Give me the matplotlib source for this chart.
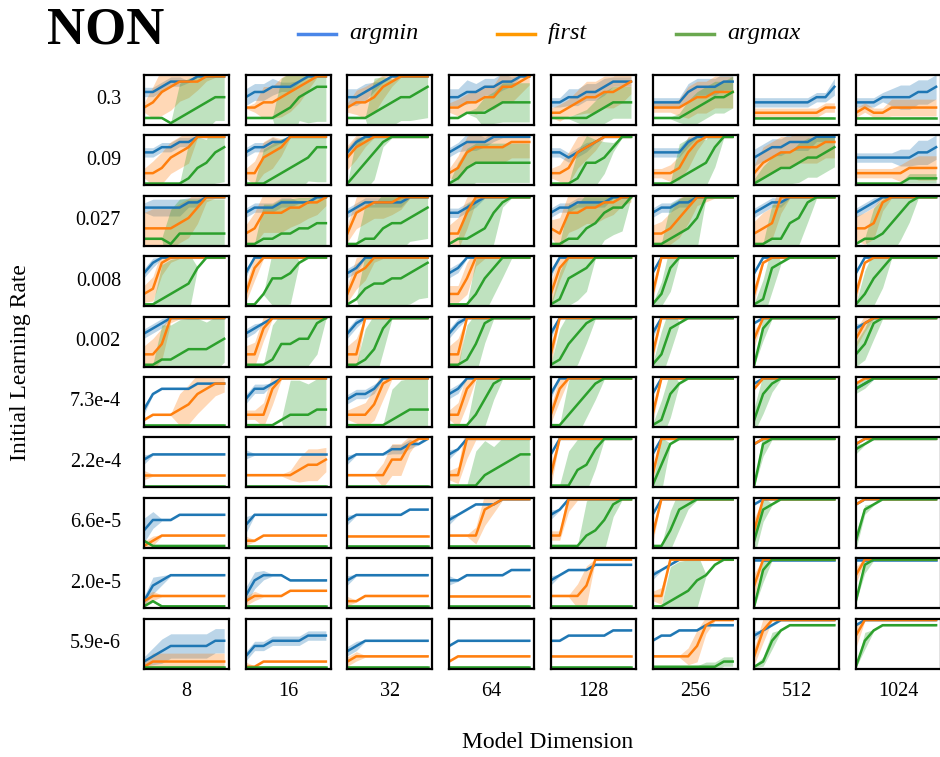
import numpy as np
import matplotlib
matplotlib.use("Agg")
import matplotlib.pyplot as plt
from matplotlib.lines import Line2D

plt.rcParams['font.family'] = ['Liberation Serif', 'DejaVu Serif']

LRS = ["0.3", "0.09", "0.027", "0.008", "0.002", "7.3e-4", "2.2e-4", "6.6e-5", "2.0e-5", "5.9e-6"]
DIMS = ["8", "16", "32", "64", "128", "256", "512", "1024"]

# each curve: 10 levels 0-9 (fraction of panel height)
ARGMIN = [
    ["6678889999", "5667778999", "5567899999", "5566778899", "4455667888", "4444677788", "4444444557", "4445555667"],
    ["6677889999", "6778899999", "6899999999", "6788899999", "6656789999", "6666899999", "5677888999", "5555555667"],
    ["7777788999", "6777888899", "6788888999", "6678999999", "6778888999", "6778899999", "6788999999", "6789999999"],
    ["6899999999", "6999999999", "6799999999", "6799999999", "6999999999", "6999999999", "6999999999", "6999999999"],
    ["6789999999", "6789999999", "6899999999", "6899999999", "6999999999", "6999999999", "8999999999", "7899999999"],
    ["3677778888", "5778999999", "5667999999", "6799999999", "6999999999", "6999999999", "8999999999", "7899999999"],
    ["5666666666", "6666666666", "5666677889", "6799999999", "6999999999", "6999999999", "8999999999", "8999999999"],
    ["3555666666", "4666666666", "5666666777", "5678889999", "6799999999", "6999999999", "8999999999", "8999999999"],
    ["1456666666", "2566655555", "5666666666", "5566666777", "5677788888", "6789999999", "9999999999", "9999999999"],
    ["1234444455", "2445555666", "3455555555", "4555555555", "5566666777", "5667778888", "6789999999", "8999999999"],
]
ARGMIN_SD = [
    ["1111100000", "2222110000", "2221000000", "2232222100", "1122222111", "1111222222", "1111111112", "1111233333"],
    ["1111110000", "1111000000", "1100000000", "1122110000", "1111100000", "1111100000", "2222222111", "1111122333"],
    ["1222211000", "1111110000", "1111111000", "1111000000", "1111111000", "1111100000", "1111000000", "1110000000"],
    ["1100000000", "1000000000", "1100000000", "1100000000", "1000000000", "0000000000", "0000000000", "0000000000"],
    ["1110000000", "1100000000", "1100000000", "1100000000", "1000000000", "1000000000", "0000000000", "1000000000"],
    ["1000000000", "1110000000", "1111000000", "1100000000", "1000000000", "0000000000", "0000000000", "0000000000"],
    ["1000000000", "1000000000", "1000011100", "1000000000", "0000000000", "0000000000", "0000000000", "0000000000"],
    ["3200000000", "2000000000", "1000000000", "1000000000", "1000000000", "0000000000", "0000000000", "0000000000"],
    ["1210000000", "2210000000", "1000000000", "1000000000", "1000000000", "1000000000", "0000000000", "0000000000"],
    ["1233333333", "1111111111", "1100000000", "0000000000", "0000000000", "0000000000", "1000000000", "0000000000"],
]
FIRST = [
    ["3467888999", "3344567899", "3445789999", "3344557789", "2234556678", "3333455666", "2222222233", "2322333333"],
    ["2235679999", "2256799999", "5789999999", "2367777888", "2236789999", "2223689999", "2456677788", "2222223333"],
    ["3333457999", "2366677889", "2678889999", "2269999999", "3266778899", "2235799999", "2349999999", "3348999999"],
    ["2389999999", "2799999999", "2679999999", "2259999999", "2799999999", "2999999999", "2899999999", "2899999999"],
    ["2249999999", "2279999999", "2299999999", "2299999999", "2999999999", "2999999999", "5999999999", "5899999999"],
    ["1222346788", "2227999999", "2224899999", "2279999999", "2799999999", "2999999999", "7999999999", "8999999999"],
    ["2222222222", "2222223445", "2222255899", "2299999999", "2999999999", "2999999999", "8999999999", "8999999999"],
    ["0122222222", "1122222222", "2222222222", "2222789999", "2299999999", "2999999999", "3999999999", "8999999999"],
    ["1222222222", "1222233333", "1122222222", "2222222222", "2222499999", "2299999999", "4999999999", "6999999999"],
    ["0111111111", "0011111111", "1222222222", "1222222222", "2222222222", "2222248999", "2799999999", "6999999999"],
]
FIRST_SD = [
    ["1466542100", "0144554200", "1344310000", "1223334432", "1223444443", "1112444444", "1111111111", "1111222222"],
    ["1344440000", "1344200000", "3310000000", "1344444444", "1244320000", "1123420000", "2444444444", "1111122333"],
    ["4555554100", "2455554432", "2444433000", "2441000000", "2454444321", "2345421000", "3444000000", "3442000000"],
    ["2331000000", "2300000000", "2431000000", "2242000000", "3300000000", "2000000000", "2000000000", "2000000000"],
    ["2441000000", "2330000000", "2400000000", "2400000000", "3000000000", "2000000000", "2000000000", "2200000000"],
    ["0000455432", "1134000000", "1234400000", "1340000000", "2300000000", "2000000000", "0000000000", "0000000000"],
    ["1000000000", "0000013443", "0000344200", "1250000000", "3000000000", "2000000000", "0000000000", "0000000000"],
    ["1100000000", "1000000000", "0000000000", "0002420000", "1130000000", "2000000000", "3000000000", "0000000000"],
    ["1100000000", "1100000000", "1000000000", "0000000000", "0003500000", "1200000000", "3000000000", "2000000000"],
    ["1222222222", "1000000000", "1100000000", "0000000000", "0000000000", "0000242000", "2300000000", "3000000000"],
]
ARGMAX = [
    ["1110123455", "1111235677", "1112345567", "1122234444", "1111123444", "1111234556", "1111111111", "1111111111"],
    ["0000013467", "0001234577", "0246899999", "0134444444", "0001445799", "0001234799", "0123345567", "0000001111"],
    ["1110222222", "0011223344", "0011344567", "0112368999", "0011346779", "0012359999", "0011458999", "0112468999"],
    ["0012347999", "0025568999", "0134455678", "0002579999", "0156799999", "0279999999", "0178999999", "0257999999"],
    ["0011233345", "0001445589", "0013799999", "0014899999", "0146899999", "0278999999", "0799999999", "2489999999"],
    ["0000000000", "0000122233", "0000012333", "0002589999", "0024689999", "0168999999", "1689999999", "7899999999"],
    ["0000000000", "0000000000", "0000000000", "0000234566", "0003479999", "0489999999", "0899999999", "7899999999"],
    ["1000000000", "0000000000", "0000000000", "0000000000", "0000235899", "0037899999", "1789999999", "1789999999"],
    ["0100000000", "0000000000", "0000000000", "0000000000", "0000000000", "0012356899", "0799999999", "1899999999"],
    ["0000000000", "0000000000", "0000000000", "0000000000", "0000000000", "0000000011", "0157888888", "0578888888"],
]
ARGMAX_SD = [
    ["0000998766", "0000996899", "0009866678", "0001445555", "0001234444", "0001344444", "0000000000", "0000000000"],
    ["0000098689", "0099987699", "0977100000", "0455555555", "0007764100", "0009986500", "1344455555", "0000001111"],
    ["0009999999", "0099998877", "0099987678", "0099881000", "0099987760", "0099980000", "0099875000", "0089875000"],
    ["0099880000", "0007780000", "0098777889", "0009975000", "0777600000", "0360000000", "0560000000", "0675000000"],
    ["0099988776", "0009877780", "0089600000", "0098500000", "0888500000", "0660000000", "0300000000", "3440000000"],
    ["0000000000", "0000099888", "0000089888", "0009740000", "0098640000", "0560000000", "3520000000", "1100000000"],
    ["0000000000", "0000000000", "0000000000", "0009967889", "0098750000", "0700000000", "0300000000", "1000000000"],
    ["0000000000", "0000000000", "0000000000", "0000000000", "0000998300", "0055100000", "4300000000", "2100000000"],
    ["0000000000", "0000000000", "0000000000", "0000000000", "0000000000", "0099870000", "0300000000", "0200000000"],
    ["0000000000", "0000000000", "0000000000", "0000000000", "0000000000", "0000001111", "0120000000", "0200000000"],
]

LINE_COLORS = ["#1f77b4", "#ff7f0e", "#2ca02c"]
LEGEND_COLORS = ["#4a86e8", "#ff9900", "#6aa84f"]
LABELS = ["argmin", "first", "argmax"]


def level(s):
    return np.array([int(ch) for ch in s]) / 9.0


def spread(s):
    return 0.02 + 0.08 * np.array([int(ch) for ch in s])


W, H = 940.0, 757.0
fig = plt.figure(figsize=(9.4, 7.57), dpi=100)
x = np.linspace(0, 1, 10)
series = [(ARGMIN, ARGMIN_SD), (FIRST, FIRST_SD), (ARGMAX, ARGMAX_SD)]

for r in range(len(LRS)):
    for c in range(len(DIMS)):
        left = 144 + c * 101.7
        top = 75 + r * 60.4
        ax = fig.add_axes([left / W, 1 - (top + 50) / H, 85 / W, 50 / H])
        for (means, sds), col in zip(series, LINE_COLORS):
            m = level(means[r][c])
            s = spread(sds[r][c])
            ax.fill_between(x, m - s, m + s, color=col, alpha=0.3, lw=0)
        for (means, sds), col in zip(series, LINE_COLORS):
            ax.plot(x, level(means[r][c]), color=col, lw=1.8)
        ax.set_xlim(0, 1.06)
        ax.set_ylim(-0.04, 1.03)
        ax.set_xticks([])
        ax.set_yticks([])
        for sp in ax.spines.values():
            sp.set_linewidth(1.6)
        if c == 0:
            fig.text(121 / W, 1 - (top + 25) / H, LRS[r], ha='right', va='center', fontsize=14.5)
        if r == len(LRS) - 1:
            fig.text((left + 42.5) / W, 1 - 692 / H, DIMS[c], ha='center', va='center', fontsize=14.5)

fig.text(548 / W, 1 - 742 / H, "Model Dimension", ha='center', va='center', fontsize=17)
fig.text(21 / W, 1 - 363 / H, "Initial Learning Rate", ha='center', va='center',
         rotation=90, fontsize=17)
fig.text(47 / W, 1 - 30 / H, "NON", ha='left', va='center', fontsize=38, fontweight='bold')

# legend drawn by hand to match the spacing of the original
for x0, col, lab in zip([298, 497, 676], LEGEND_COLORS, LABELS):
    fig.add_artist(Line2D([x0 / W, (x0 + 38) / W], [1 - 34 / H, 1 - 34 / H],
                          color=col, lw=2.5, transform=fig.transFigure))
    fig.text((x0 + 51) / W, 1 - 33 / H, lab, ha='left', va='center', fontsize=17.5, style='italic')

fig.savefig("out.png", dpi=100)
